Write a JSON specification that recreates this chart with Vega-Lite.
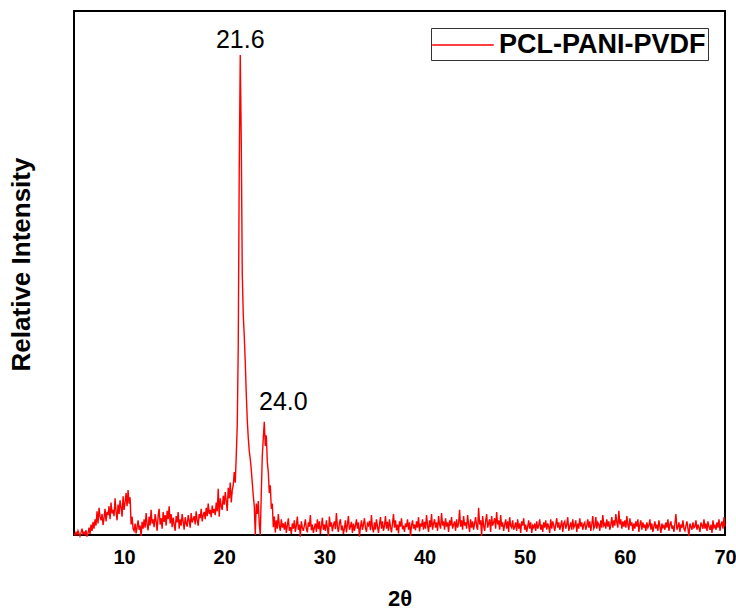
{
"$schema": "https://vega.github.io/schema/vega-lite/v6.json",
"width": 651, "height": 524,
"autosize": {"type": "none"},
"padding": {"left": 74, "top": 11, "right": 11, "bottom": 76},
"config": {"font": "Liberation Sans", "view": {"stroke": "black", "strokeWidth": 2}},
"layer": [
{
"data": {"values": [
{"x":5.0,"y":2},{"x":5.1,"y":0},{"x":5.2,"y":5},{"x":5.3,"y":1},{"x":5.4,"y":8},{"x":5.5,"y":3},{"x":5.6,"y":-2},{"x":5.7,"y":4},{"x":5.8,"y":12},{"x":5.9,"y":2},
{"x":6.0,"y":5},{"x":6.1,"y":1},{"x":6.2,"y":9},{"x":6.3,"y":-3},{"x":6.4,"y":3},{"x":6.5,"y":14},{"x":6.6,"y":2},{"x":6.7,"y":20},{"x":6.8,"y":8},{"x":6.9,"y":25},
{"x":7.0,"y":12},{"x":7.1,"y":30},{"x":7.2,"y":18},{"x":7.3,"y":45},{"x":7.4,"y":22},{"x":7.5,"y":52},{"x":7.6,"y":35},{"x":7.7,"y":28},{"x":7.8,"y":40},{"x":7.9,"y":19},
{"x":8.0,"y":33},{"x":8.1,"y":50},{"x":8.2,"y":26},{"x":8.3,"y":44},{"x":8.4,"y":38},{"x":8.5,"y":55},{"x":8.6,"y":30},{"x":8.7,"y":62},{"x":8.8,"y":41},{"x":8.9,"y":48},
{"x":9.0,"y":36},{"x":9.1,"y":70},{"x":9.2,"y":45},{"x":9.3,"y":28},{"x":9.4,"y":58},{"x":9.5,"y":40},{"x":9.6,"y":66},{"x":9.7,"y":52},{"x":9.8,"y":35},{"x":9.9,"y":74},
{"x":10.0,"y":48},{"x":10.1,"y":62},{"x":10.2,"y":80},{"x":10.3,"y":55},{"x":10.4,"y":86},{"x":10.5,"y":60},{"x":10.6,"y":72},{"x":10.7,"y":20},{"x":10.8,"y":35},{"x":10.9,"y":12},
{"x":11.0,"y":8},{"x":11.1,"y":22},{"x":11.2,"y":3},{"x":11.3,"y":15},{"x":11.4,"y":28},{"x":11.5,"y":10},{"x":11.6,"y":18},{"x":11.7,"y":-2},{"x":11.8,"y":25},{"x":11.9,"y":12},
{"x":12.0,"y":30},{"x":12.1,"y":14},{"x":12.2,"y":42},{"x":12.3,"y":20},{"x":12.4,"y":9},{"x":12.5,"y":35},{"x":12.6,"y":18},{"x":12.7,"y":48},{"x":12.8,"y":22},{"x":12.9,"y":30},
{"x":13.0,"y":15},{"x":13.1,"y":40},{"x":13.2,"y":26},{"x":13.3,"y":8},{"x":13.4,"y":36},{"x":13.5,"y":50},{"x":13.6,"y":20},{"x":13.7,"y":32},{"x":13.8,"y":12},{"x":13.9,"y":44},
{"x":14.0,"y":25},{"x":14.1,"y":38},{"x":14.2,"y":18},{"x":14.3,"y":46},{"x":14.4,"y":30},{"x":14.5,"y":55},{"x":14.6,"y":22},{"x":14.7,"y":40},{"x":14.8,"y":15},{"x":14.9,"y":33},
{"x":15.0,"y":20},{"x":15.1,"y":8},{"x":15.2,"y":36},{"x":15.3,"y":24},{"x":15.4,"y":44},{"x":15.5,"y":12},{"x":15.6,"y":30},{"x":15.7,"y":18},{"x":15.8,"y":40},{"x":15.9,"y":26},
{"x":16.0,"y":10},{"x":16.1,"y":34},{"x":16.2,"y":22},{"x":16.3,"y":16},{"x":16.4,"y":38},{"x":16.5,"y":28},{"x":16.6,"y":14},{"x":16.7,"y":42},{"x":16.8,"y":24},{"x":16.9,"y":30},
{"x":17.0,"y":36},{"x":17.1,"y":20},{"x":17.2,"y":45},{"x":17.3,"y":28},{"x":17.4,"y":18},{"x":17.5,"y":40},{"x":17.6,"y":32},{"x":17.7,"y":50},{"x":17.8,"y":26},{"x":17.9,"y":38},
{"x":18.0,"y":44},{"x":18.1,"y":30},{"x":18.2,"y":52},{"x":18.3,"y":36},{"x":18.4,"y":60},{"x":18.5,"y":40},{"x":18.6,"y":48},{"x":18.7,"y":34},{"x":18.8,"y":56},{"x":18.9,"y":42},
{"x":19.0,"y":50},{"x":19.1,"y":38},{"x":19.2,"y":62},{"x":19.3,"y":45},{"x":19.4,"y":88},{"x":19.5,"y":35},{"x":19.6,"y":70},{"x":19.7,"y":55},{"x":19.8,"y":48},{"x":19.9,"y":75},
{"x":20.0,"y":58},{"x":20.1,"y":82},{"x":20.2,"y":64},{"x":20.3,"y":46},{"x":20.4,"y":90},{"x":20.5,"y":70},{"x":20.6,"y":100},{"x":20.7,"y":62},{"x":20.8,"y":85},{"x":20.9,"y":95},
{"x":21.0,"y":120},{"x":21.1,"y":100},{"x":21.2,"y":150},{"x":21.3,"y":210},{"x":21.4,"y":360},{"x":21.5,"y":700},{"x":21.6,"y":916},{"x":21.7,"y":754},{"x":21.8,"y":500},{"x":21.9,"y":420},
{"x":22.0,"y":380},{"x":22.1,"y":330},{"x":22.2,"y":270},{"x":22.3,"y":220},{"x":22.4,"y":185},{"x":22.5,"y":160},{"x":22.6,"y":145},{"x":22.7,"y":125},{"x":22.8,"y":100},{"x":22.9,"y":75},
{"x":23.0,"y":55},{"x":23.1,"y":0},{"x":23.2,"y":60},{"x":23.3,"y":40},{"x":23.4,"y":65},{"x":23.5,"y":20},{"x":23.6,"y":0},{"x":23.7,"y":80},{"x":23.8,"y":150},{"x":23.9,"y":185},
{"x":24.0,"y":216},{"x":24.1,"y":170},{"x":24.2,"y":190},{"x":24.3,"y":140},{"x":24.4,"y":120},{"x":24.5,"y":80},{"x":24.6,"y":95},{"x":24.7,"y":50},{"x":24.8,"y":60},{"x":24.9,"y":15},
{"x":25.0,"y":35},{"x":25.1,"y":5},{"x":25.2,"y":28},{"x":25.3,"y":12},{"x":25.4,"y":40},{"x":25.5,"y":18},{"x":25.6,"y":8},{"x":25.7,"y":30},{"x":25.8,"y":14},{"x":25.9,"y":22},
{"x":26.0,"y":10},{"x":26.1,"y":25},{"x":26.2,"y":4},{"x":26.3,"y":18},{"x":26.4,"y":32},{"x":26.5,"y":8},{"x":26.6,"y":15},{"x":26.7,"y":2},{"x":26.8,"y":22},{"x":26.9,"y":12},
{"x":27.0,"y":28},{"x":27.1,"y":6},{"x":27.2,"y":18},{"x":27.3,"y":35},{"x":27.4,"y":10},{"x":27.5,"y":20},{"x":27.6,"y":-3},{"x":27.7,"y":26},{"x":27.8,"y":14},{"x":27.9,"y":8},
{"x":28.0,"y":18},{"x":28.1,"y":30},{"x":28.2,"y":12},{"x":28.3,"y":5},{"x":28.4,"y":24},{"x":28.5,"y":16},{"x":28.6,"y":38},{"x":28.7,"y":9},{"x":28.8,"y":20},{"x":28.9,"y":4},
{"x":29.0,"y":14},{"x":29.1,"y":22},{"x":29.2,"y":6},{"x":29.3,"y":30},{"x":29.4,"y":11},{"x":29.5,"y":26},{"x":29.6,"y":2},{"x":29.7,"y":17},{"x":29.8,"y":33},{"x":29.9,"y":10},
{"x":30.0,"y":20},{"x":30.1,"y":8},{"x":30.2,"y":28},{"x":30.3,"y":13},{"x":30.4,"y":-2},{"x":30.5,"y":35},{"x":30.6,"y":16},{"x":30.7,"y":24},{"x":30.8,"y":7},{"x":30.9,"y":19},
{"x":31.0,"y":26},{"x":31.1,"y":11},{"x":31.2,"y":42},{"x":31.3,"y":15},{"x":31.4,"y":6},{"x":31.5,"y":23},{"x":31.6,"y":30},{"x":31.7,"y":9},{"x":31.8,"y":18},{"x":31.9,"y":2},
{"x":32.0,"y":12},{"x":32.1,"y":28},{"x":32.2,"y":5},{"x":32.3,"y":20},{"x":32.4,"y":36},{"x":32.5,"y":10},{"x":32.6,"y":16},{"x":32.7,"y":25},{"x":32.8,"y":4},{"x":32.9,"y":22},
{"x":33.0,"y":8},{"x":33.1,"y":18},{"x":33.2,"y":30},{"x":33.3,"y":12},{"x":33.4,"y":24},{"x":33.5,"y":-3},{"x":33.6,"y":15},{"x":33.7,"y":28},{"x":33.8,"y":10},{"x":33.9,"y":20},
{"x":34.0,"y":32},{"x":34.1,"y":14},{"x":34.2,"y":6},{"x":34.3,"y":22},{"x":34.4,"y":18},{"x":34.5,"y":27},{"x":34.6,"y":9},{"x":34.7,"y":38},{"x":34.8,"y":13},{"x":34.9,"y":5},
{"x":35.0,"y":24},{"x":35.1,"y":10},{"x":35.2,"y":30},{"x":35.3,"y":16},{"x":35.4,"y":4},{"x":35.5,"y":20},{"x":35.6,"y":34},{"x":35.7,"y":12},{"x":35.8,"y":26},{"x":35.9,"y":8},
{"x":36.0,"y":18},{"x":36.1,"y":36},{"x":36.2,"y":12},{"x":36.3,"y":25},{"x":36.4,"y":8},{"x":36.5,"y":30},{"x":36.6,"y":15},{"x":36.7,"y":5},{"x":36.8,"y":22},{"x":36.9,"y":40},
{"x":37.0,"y":14},{"x":37.1,"y":28},{"x":37.2,"y":9},{"x":37.3,"y":20},{"x":37.4,"y":3},{"x":37.5,"y":26},{"x":37.6,"y":16},{"x":37.7,"y":32},{"x":37.8,"y":11},{"x":37.9,"y":18},
{"x":38.0,"y":6},{"x":38.1,"y":22},{"x":38.2,"y":15},{"x":38.3,"y":30},{"x":38.4,"y":10},{"x":38.5,"y":24},{"x":38.6,"y":-2},{"x":38.7,"y":18},{"x":38.8,"y":28},{"x":38.9,"y":12},
{"x":39.0,"y":20},{"x":39.1,"y":9},{"x":39.2,"y":26},{"x":39.3,"y":14},{"x":39.4,"y":34},{"x":39.5,"y":7},{"x":39.6,"y":22},{"x":39.7,"y":16},{"x":39.8,"y":30},{"x":39.9,"y":10},
{"x":40.0,"y":25},{"x":40.1,"y":12},{"x":40.2,"y":38},{"x":40.3,"y":18},{"x":40.4,"y":6},{"x":40.5,"y":28},{"x":40.6,"y":15},{"x":40.7,"y":40},{"x":40.8,"y":10},{"x":40.9,"y":22},
{"x":41.0,"y":30},{"x":41.1,"y":14},{"x":41.2,"y":24},{"x":41.3,"y":8},{"x":41.4,"y":36},{"x":41.5,"y":20},{"x":41.6,"y":12},{"x":41.7,"y":42},{"x":41.8,"y":18},{"x":41.9,"y":26},
{"x":42.0,"y":10},{"x":42.1,"y":32},{"x":42.2,"y":16},{"x":42.3,"y":24},{"x":42.4,"y":6},{"x":42.5,"y":28},{"x":42.6,"y":18},{"x":42.7,"y":34},{"x":42.8,"y":12},{"x":42.9,"y":20},
{"x":43.0,"y":26},{"x":43.1,"y":8},{"x":43.2,"y":30},{"x":43.3,"y":14},{"x":43.4,"y":22},{"x":43.5,"y":48},{"x":43.6,"y":16},{"x":43.7,"y":28},{"x":43.8,"y":10},{"x":43.9,"y":36},
{"x":44.0,"y":18},{"x":44.1,"y":24},{"x":44.2,"y":12},{"x":44.3,"y":38},{"x":44.4,"y":20},{"x":44.5,"y":6},{"x":44.6,"y":30},{"x":44.7,"y":14},{"x":44.8,"y":26},{"x":44.9,"y":10},
{"x":45.0,"y":22},{"x":45.1,"y":34},{"x":45.2,"y":16},{"x":45.3,"y":10},{"x":45.4,"y":52},{"x":45.5,"y":20},{"x":45.6,"y":28},{"x":45.7,"y":-2},{"x":45.8,"y":36},{"x":45.9,"y":18},
{"x":46.0,"y":8},{"x":46.1,"y":26},{"x":46.2,"y":40},{"x":46.3,"y":14},{"x":46.4,"y":22},{"x":46.5,"y":30},{"x":46.6,"y":6},{"x":46.7,"y":36},{"x":46.8,"y":18},{"x":46.9,"y":24},
{"x":47.0,"y":32},{"x":47.1,"y":12},{"x":47.2,"y":44},{"x":47.3,"y":20},{"x":47.4,"y":28},{"x":47.5,"y":10},{"x":47.6,"y":38},{"x":47.7,"y":16},{"x":47.8,"y":24},{"x":47.9,"y":8},
{"x":48.0,"y":20},{"x":48.1,"y":30},{"x":48.2,"y":12},{"x":48.3,"y":26},{"x":48.4,"y":6},{"x":48.5,"y":34},{"x":48.6,"y":18},{"x":48.7,"y":14},{"x":48.8,"y":28},{"x":48.9,"y":10},
{"x":49.0,"y":16},{"x":49.1,"y":24},{"x":49.2,"y":8},{"x":49.3,"y":30},{"x":49.4,"y":12},{"x":49.5,"y":22},{"x":49.6,"y":4},{"x":49.7,"y":26},{"x":49.8,"y":18},{"x":49.9,"y":32},
{"x":50.0,"y":10},{"x":50.1,"y":20},{"x":50.2,"y":6},{"x":50.3,"y":16},{"x":50.4,"y":28},{"x":50.5,"y":12},{"x":50.6,"y":24},{"x":50.7,"y":4},{"x":50.8,"y":18},{"x":50.9,"y":14},
{"x":51.0,"y":22},{"x":51.1,"y":8},{"x":51.2,"y":26},{"x":51.3,"y":12},{"x":51.4,"y":18},{"x":51.5,"y":30},{"x":51.6,"y":10},{"x":51.7,"y":20},{"x":51.8,"y":6},{"x":51.9,"y":24},
{"x":52.0,"y":14},{"x":52.1,"y":28},{"x":52.2,"y":10},{"x":52.3,"y":22},{"x":52.4,"y":16},{"x":52.5,"y":4},{"x":52.6,"y":30},{"x":52.7,"y":12},{"x":52.8,"y":26},{"x":52.9,"y":18},
{"x":53.0,"y":8},{"x":53.1,"y":20},{"x":53.2,"y":32},{"x":53.3,"y":14},{"x":53.4,"y":24},{"x":53.5,"y":10},{"x":53.6,"y":18},{"x":53.7,"y":28},{"x":53.8,"y":6},{"x":53.9,"y":22},
{"x":54.0,"y":26},{"x":54.1,"y":12},{"x":54.2,"y":20},{"x":54.3,"y":34},{"x":54.4,"y":8},{"x":54.5,"y":16},{"x":54.6,"y":24},{"x":54.7,"y":10},{"x":54.8,"y":30},{"x":54.9,"y":14},
{"x":55.0,"y":18},{"x":55.1,"y":28},{"x":55.2,"y":6},{"x":55.3,"y":22},{"x":55.4,"y":12},{"x":55.5,"y":32},{"x":55.6,"y":16},{"x":55.7,"y":24},{"x":55.8,"y":10},{"x":55.9,"y":20},
{"x":56.0,"y":24},{"x":56.1,"y":10},{"x":56.2,"y":18},{"x":56.3,"y":30},{"x":56.4,"y":14},{"x":56.5,"y":26},{"x":56.6,"y":8},{"x":56.7,"y":20},{"x":56.8,"y":36},{"x":56.9,"y":12},
{"x":57.0,"y":16},{"x":57.1,"y":34},{"x":57.2,"y":12},{"x":57.3,"y":24},{"x":57.4,"y":20},{"x":57.5,"y":8},{"x":57.6,"y":28},{"x":57.7,"y":14},{"x":57.8,"y":38},{"x":57.9,"y":18},
{"x":58.0,"y":22},{"x":58.1,"y":12},{"x":58.2,"y":30},{"x":58.3,"y":16},{"x":58.4,"y":26},{"x":58.5,"y":10},{"x":58.6,"y":20},{"x":58.7,"y":34},{"x":58.8,"y":14},{"x":58.9,"y":28},
{"x":59.0,"y":18},{"x":59.1,"y":40},{"x":59.2,"y":24},{"x":59.3,"y":14},{"x":59.4,"y":46},{"x":59.5,"y":20},{"x":59.6,"y":30},{"x":59.7,"y":12},{"x":59.8,"y":26},{"x":59.9,"y":16},
{"x":60.0,"y":28},{"x":60.1,"y":14},{"x":60.2,"y":36},{"x":60.3,"y":20},{"x":60.4,"y":10},{"x":60.5,"y":32},{"x":60.6,"y":18},{"x":60.7,"y":24},{"x":60.8,"y":8},{"x":60.9,"y":22},
{"x":61.0,"y":12},{"x":61.1,"y":26},{"x":61.2,"y":16},{"x":61.3,"y":30},{"x":61.4,"y":6},{"x":61.5,"y":20},{"x":61.6,"y":28},{"x":61.7,"y":10},{"x":61.8,"y":24},{"x":61.9,"y":14},
{"x":62.0,"y":20},{"x":62.1,"y":8},{"x":62.2,"y":24},{"x":62.3,"y":14},{"x":62.4,"y":18},{"x":62.5,"y":30},{"x":62.6,"y":10},{"x":62.7,"y":22},{"x":62.8,"y":6},{"x":62.9,"y":16},
{"x":63.0,"y":26},{"x":63.1,"y":12},{"x":63.2,"y":20},{"x":63.3,"y":8},{"x":63.4,"y":28},{"x":63.5,"y":16},{"x":63.6,"y":4},{"x":63.7,"y":22},{"x":63.8,"y":14},{"x":63.9,"y":18},
{"x":64.0,"y":10},{"x":64.1,"y":24},{"x":64.2,"y":14},{"x":64.3,"y":30},{"x":64.4,"y":8},{"x":64.5,"y":20},{"x":64.6,"y":26},{"x":64.7,"y":12},{"x":64.8,"y":18},{"x":64.9,"y":6},
{"x":65.0,"y":22},{"x":65.1,"y":40},{"x":65.2,"y":10},{"x":65.3,"y":16},{"x":65.4,"y":24},{"x":65.5,"y":6},{"x":65.6,"y":20},{"x":65.7,"y":14},{"x":65.8,"y":28},{"x":65.9,"y":12},
{"x":66.0,"y":8},{"x":66.1,"y":18},{"x":66.2,"y":26},{"x":66.3,"y":12},{"x":66.4,"y":-2},{"x":66.5,"y":22},{"x":66.6,"y":16},{"x":66.7,"y":10},{"x":66.8,"y":24},{"x":66.9,"y":14},
{"x":67.0,"y":16},{"x":67.1,"y":28},{"x":67.2,"y":10},{"x":67.3,"y":20},{"x":67.4,"y":14},{"x":67.5,"y":6},{"x":67.6,"y":24},{"x":67.7,"y":18},{"x":67.8,"y":12},{"x":67.9,"y":30},
{"x":68.0,"y":12},{"x":68.1,"y":22},{"x":68.2,"y":8},{"x":68.3,"y":26},{"x":68.4,"y":16},{"x":68.5,"y":10},{"x":68.6,"y":20},{"x":68.7,"y":4},{"x":68.8,"y":28},{"x":68.9,"y":14},
{"x":69.0,"y":18},{"x":69.1,"y":10},{"x":69.2,"y":24},{"x":69.3,"y":14},{"x":69.4,"y":30},{"x":69.5,"y":8},{"x":69.6,"y":20},{"x":69.7,"y":26},{"x":69.8,"y":12},{"x":69.9,"y":34},
{"x":70.0,"y":16}
]},
"mark": {"type": "line", "strokeWidth": 1.4},
"encoding": {
"x": {"field": "x", "type": "quantitative", "scale": {"domain": [5, 70], "nice": false, "zero": false},
 "axis": {"values": [10, 20, 30, 40, 50, 60, 70], "grid": false, "ticks": false, "domain": false, "labelFontSize": 20, "labelFontWeight": "bold", "labelColor": "black", "labelPadding": 12, "labelOverlap": false, "labelBound": false, "labelFlush": false, "title": "2θ", "titleFontSize": 22, "titleFontWeight": "bold", "titleColor": "black", "titlePadding": 21}},
"y": {"field": "y", "type": "quantitative", "scale": {"domain": [0, 1000], "nice": false},
 "axis": {"labels": false, "ticks": false, "grid": false, "domain": false, "title": "Relative Intensity", "titleFontSize": 26, "titleFontWeight": "bold", "titleColor": "black", "titlePadding": 40, "titleY": 253}},
"color": {"datum": "PCL-PANI-PVDF", "type": "nominal", "scale": {"range": ["#ff0000"]},
 "legend": {"title": null, "orient": "none", "legendX": 357, "legendY": 17, "symbolType": "M-2.2,0H2.2", "symbolSize": 784, "symbolOffset": 15, "symbolStrokeWidth": 1.4, "symbolStrokeColor": "#ff0000", "symbolFillColor": "transparent", "labelFontSize": 27, "labelFontWeight": "bold", "labelColor": "black", "labelOffset": 21, "padding": 2, "strokeColor": "#333333", "fillColor": "white", "labelLimit": 400}}
}
},
{
"data": {"values": [{"x": 21.6, "y": 945, "label": "21.6"}, {"x": 25.9, "y": 254, "label": "24.0"}]},
"mark": {"type": "text", "fontSize": 25, "font": "Liberation Sans", "color": "black"},
"encoding": {
"x": {"field": "x", "type": "quantitative"},
"y": {"field": "y", "type": "quantitative"},
"text": {"field": "label"}
}
}
]
}
